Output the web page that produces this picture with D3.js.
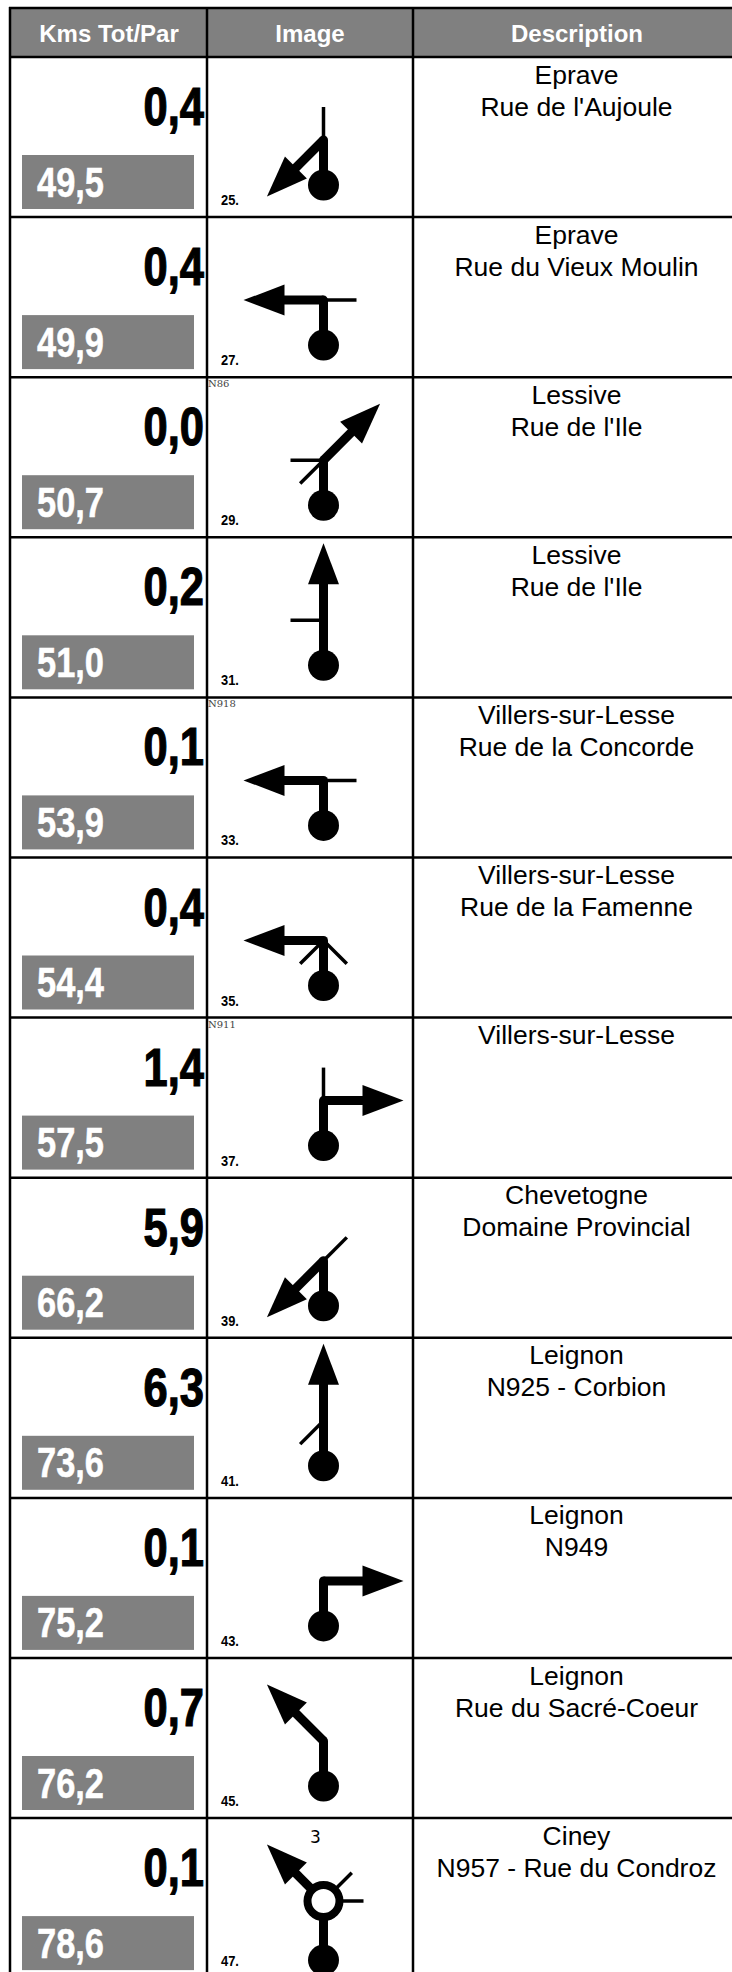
<!DOCTYPE html>
<html lang="en">
<head>
<meta charset="UTF-8">
<title>Roadbook</title>
<script src="https://cdn.jsdelivr.net/npm/d3@7"></script>
<style>
  html, body { margin: 0; padding: 0; background: #fff; }
  svg { display: block; }
  text { font-family: "Liberation Sans", Arial, sans-serif; }
</style>
</head>
<body>
<div id="chart"></div>
<script>
// Roadbook values, one entry per row
const headers = ["Kms Tot/Par", "Image", "Description"];
const partials = [0.4, 0.4, 0.0, 0.2, 0.1, 0.4, 1.4, 5.9, 6.3, 0.1, 0.7, 0.1];
const totals = [49.5, 49.9, 50.7, 51.0, 53.9, 54.4, 57.5, 66.2, 73.6, 75.2, 76.2, 78.6];
const stepNumbers = [25, 27, 29, 31, 33, 35, 37, 39, 41, 43, 45, 47];
const places = ["Eprave", "Eprave", "Lessive", "Lessive", "Villers-sur-Lesse", "Villers-sur-Lesse",
  "Villers-sur-Lesse", "Chevetogne", "Leignon", "Leignon", "Leignon", "Ciney"];
const streets = ["Rue de l'Aujoule", "Rue du Vieux Moulin", "Rue de l'Ile", "Rue de l'Ile", "Rue de la Concorde",
  "Rue de la Famenne", "", "Domaine Provincial", "N925 - Corbion", "N949", "Rue du Sacré-Coeur", "N957 - Rue du Condroz"];
const roads = ["", "", "N86", "", "N918", "", "N911", "", "", "", "", ""];
// compass headings in degrees, 0 = straight on
const mainHeadings = [225, 270, 45, 0, 270, 270, 90, 225, 0, 90, 315, 315];
const sideHeadings = [[0], [90], [270, 225], [270], [90], [225, 135], [0], [45], [225], [], [], [45, 90]];
const roundaboutExits = [null, null, null, null, null, null, null, null, null, null, null, 3];

const width = 732, height = 1972;
const headerTop = 9, tableTop = 57, rowHeight = 160.1;
const left = 10, colImage = 207, colDesc = 413;

const fmt = d3.formatLocale({ decimal: ",", thousands: ".", grouping: [3], currency: ["", "€"] }).format(".1f");
const y = d3.scaleLinear().domain([0, partials.length]).range([tableTop, tableTop + rowHeight * partials.length]);
const colCenter = d3.scaleOrdinal().domain(headers).range([109, 310, 577]);
const rows = d3.range(partials.length);

const svg = d3.select("#chart").append("svg").attr("width", width).attr("height", height);

// Header band
svg.append("rect").attr("x", left).attr("y", headerTop).attr("width", width - left).attr("height", tableTop - headerTop).attr("fill", "#808080");
svg.selectAll(".head").data(headers).enter().append("text")
  .attr("class", "head")
  .attr("x", d => colCenter(d)).attr("y", 42)
  .attr("text-anchor", "middle").attr("font-size", 24).attr("font-weight", "bold").attr("fill", "#fff")
  .text(d => d);

// Grey total boxes
svg.selectAll(".totalBox").data(rows).enter().append("rect")
  .attr("class", "totalBox")
  .attr("x", 22).attr("y", i => y(i) + 98).attr("width", 172).attr("height", 54).attr("fill", "#808080");

// Condensed numbers (squeezed horizontally, stroked a bit to look heavier)
svg.selectAll(".total").data(rows).enter().append("text")
  .attr("class", "total")
  .attr("transform", i => `translate(37,${y(i) + 139.5}) scale(0.82,1)`)
  .attr("font-size", 42).attr("font-weight", "bold").attr("fill", "#fff")
  .attr("stroke", "#fff").attr("stroke-width", 0.5)
  .text(i => fmt(totals[i]));

svg.selectAll(".partial").data(rows).enter().append("text")
  .attr("class", "partial")
  .attr("transform", i => `translate(204,${y(i) + 68}) scale(0.82,1)`)
  .attr("text-anchor", "end").attr("font-size", 53).attr("font-weight", "bold").attr("fill", "#000")
  .attr("stroke", "#000").attr("stroke-width", 1.2)
  .text(i => fmt(partials[i]));

svg.selectAll(".step").data(rows).enter().append("text")
  .attr("class", "step")
  .attr("transform", i => `translate(221,${y(i) + 148}) scale(0.92,1)`)
  .attr("font-size", 14).attr("font-weight", "bold").attr("fill", "#000")
  .text(i => stepNumbers[i] + ".");

svg.selectAll(".road").data(rows.filter(i => roads[i])).enter().append("text")
  .attr("class", "road")
  .attr("x", 208).attr("y", i => y(i) + 10)
  .attr("font-size", 10).attr("fill", "#444").style("font-family", "'DejaVu Serif', serif")
  .text(i => roads[i]);

// Description column
svg.selectAll(".place").data(rows).enter().append("text")
  .attr("class", "place")
  .attr("x", colCenter("Description") - 0.5).attr("y", i => y(i) + 26.5)
  .attr("text-anchor", "middle").attr("font-size", 26.5).attr("fill", "#000")
  .text(i => places[i]);
svg.selectAll(".street").data(rows).enter().append("text")
  .attr("class", "street")
  .attr("x", colCenter("Description") - 0.5).attr("y", i => y(i) + 58.5)
  .attr("text-anchor", "middle").attr("font-size", 26.5).attr("fill", "#000")
  .text(i => streets[i]);

// Tulip signs
const signX = 323.5;
const signs = svg.selectAll(".sign").data(rows).enter().append("g")
  .attr("class", "sign")
  .attr("transform", i => `translate(${signX},${y(i) + 83})`);

signs.each(function (i) {
  const g = d3.select(this);
  const isRound = roundaboutExits[i] !== null;
  const ballY = isRound ? 59 : 45;
  const reach = isRound ? 40 : 33;

  sideHeadings[i].forEach(h => {
    g.append("line").attr("x1", 0).attr("y1", 0).attr("x2", 0).attr("y2", -reach)
      .attr("transform", `rotate(${h})`).attr("stroke", "#000").attr("stroke-width", 3.5);
  });

  g.append("line").attr("x1", 0).attr("y1", 0).attr("x2", 0).attr("y2", ballY).attr("stroke", "#000").attr("stroke-width", 9);
  g.append("circle").attr("cy", ballY).attr("r", 15.5).attr("fill", "#000");

  // the straight-on arrow sits a little shorter in the reference
  const nudge = mainHeadings[i] === 0 ? 3 : 0;
  const arrow = g.append("g").attr("transform", `rotate(${mainHeadings[i]}) translate(0,${nudge})`);
  arrow.append("line").attr("x1", 0).attr("y1", -nudge).attr("x2", 0).attr("y2", -42).attr("stroke", "#000").attr("stroke-width", 9);
  arrow.append("polygon").attr("points", "0,-80 -15.5,-39 15.5,-39").attr("fill", "#000");

  if (isRound) {
    g.append("circle").attr("r", 16).attr("fill", "#fff").attr("stroke", "#000").attr("stroke-width", 8);
    g.append("text").attr("x", -8).attr("y", -58).attr("text-anchor", "middle")
      .attr("font-size", 17).style("font-family", "'DejaVu Sans', sans-serif").attr("fill", "#000")
      .text(roundaboutExits[i]);
  } else {
    g.append("circle").attr("r", 4.5).attr("fill", "#000");
  }
});

// Grid lines
const hLines = [headerTop - 1].concat(d3.range(partials.length + 1).map(i => y(i)));
svg.selectAll(".hline").data(hLines).enter().append("line")
  .attr("class", "hline")
  .attr("x1", left - 1).attr("x2", width).attr("y1", d => d).attr("y2", d => d)
  .attr("stroke", "#000").attr("stroke-width", 2.5);
svg.selectAll(".vline").data([left, colImage, colDesc]).enter().append("line")
  .attr("class", "vline")
  .attr("x1", d => d).attr("x2", d => d).attr("y1", headerTop - 2).attr("y2", height)
  .attr("stroke", "#000").attr("stroke-width", 2.5);
</script>
</body>
</html>
